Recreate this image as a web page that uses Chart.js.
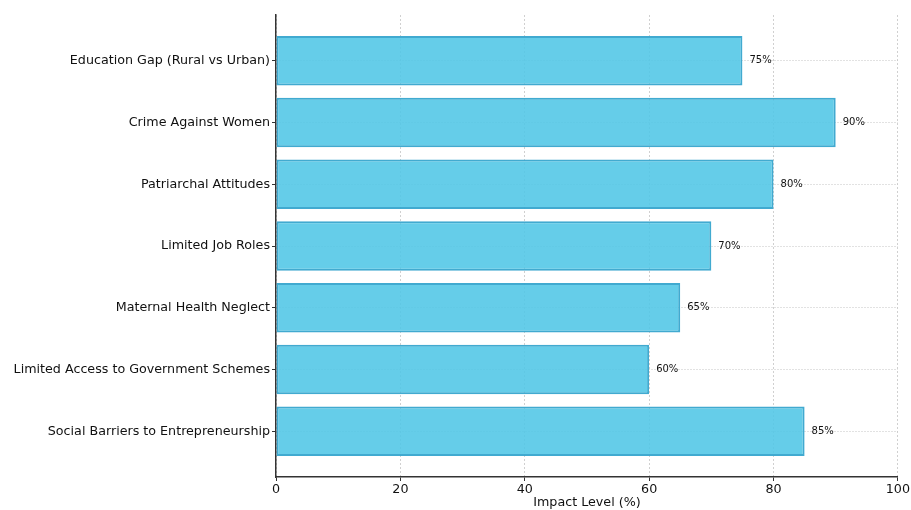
<!DOCTYPE html>
<html>
<head>
<meta charset="utf-8">
<script src="https://cdn.jsdelivr.net/npm/chart.js@4.4.0/dist/chart.umd.min.js"></script>
<style>
  html, body { margin: 0; padding: 0; background: #fff; }
  #wrap { width: 911px; height: 510px; }
</style>
</head>
<body>
<div id="wrap"><canvas id="chart" width="911" height="510"></canvas></div>
<script>
// Datos del gráfico
const categories = [
  'Education Gap (Rural vs Urban)',
  'Crime Against Women',
  'Patriarchal Attitudes',
  'Limited Job Roles',
  'Maternal Health Neglect',
  'Limited Access to Government Schemes',
  'Social Barriers to Entrepreneurship'
];
const impactValues = [75, 90, 80, 70, 65, 60, 85];
const xTicks = [0, 20, 40, 60, 80, 100];

const FONT = 'DejaVu Sans';

// Etiquetas de valor junto a cada barra
const valueLabels = {
  id: 'valueLabels',
  afterDatasetsDraw(chart) {
    const ctx = chart.ctx;
    const meta = chart.getDatasetMeta(0);
    ctx.save();
    ctx.font = '10px "' + FONT + '"';
    ctx.fillStyle = '#111';
    ctx.textAlign = 'left';
    ctx.textBaseline = 'middle';
    meta.data.forEach((bar, i) => {
      ctx.fillText(impactValues[i] + '%', bar.x + 7, bar.y);
    });
    ctx.restore();
  }
};

const ctx = document.getElementById('chart').getContext('2d');
new Chart(ctx, {
  type: 'bar',
  data: {
    datasets: [{
      data: impactValues.map((v, i) => ({ x: v, y: i })),
      backgroundColor: 'rgba(80,198,230,0.88)',
      borderColor: 'rgba(55,165,205,0.95)',
      borderWidth: 2,
      borderSkipped: false,
      categoryPercentage: 1,
      barPercentage: 0.8
    }]
  },
  options: {
    indexAxis: 'y',
    responsive: false,
    animation: false,
    layout: { padding: { top: 15, right: 13, left: 0, bottom: 0 } },
    plugins: { legend: { display: false }, tooltip: { enabled: false } },
    scales: {
      x: {
        type: 'linear',
        min: 0,
        max: 100,
        afterBuildTicks: s => { s.ticks = xTicks.map(v => ({ value: v })); },
        afterFit: s => { s.height = 33; },
        grid: {
          color: '#d0d0d0',
          tickColor: '#333',
          tickBorderDash: [],
          tickLength: 4
        },
        border: { display: true, color: '#333', width: 1.5, dash: [2, 2] },
        ticks: { color: '#111', font: { family: FONT, size: 12.7 }, padding: 1, maxRotation: 0 },
        title: {
          display: true,
          text: 'Impact Level (%)',
          color: '#111',
          font: { family: FONT, size: 12.7 },
          padding: { top: 0, bottom: 0 }
        }
      },
      y: {
        type: 'linear',
        reverse: true,
        offset: false,
        min: -0.74,
        max: 6.74,
        afterBuildTicks: s => { s.ticks = categories.map((c, i) => ({ value: i })); },
        afterFit: s => { s.width = 276; },
        grid: {
          offset: false,
          color: '#c4c4c4',
          tickColor: '#333',
          tickBorderDash: [],
          tickLength: 4
        },
        border: { display: true, color: '#333', width: 1.5, dash: [1, 2] },
        ticks: {
          color: '#111',
          font: { family: FONT, size: 12.7 },
          padding: 2,
          callback: v => categories[v]
        }
      }
    }
  },
  plugins: [valueLabels]
});
</script>
</body>
</html>
